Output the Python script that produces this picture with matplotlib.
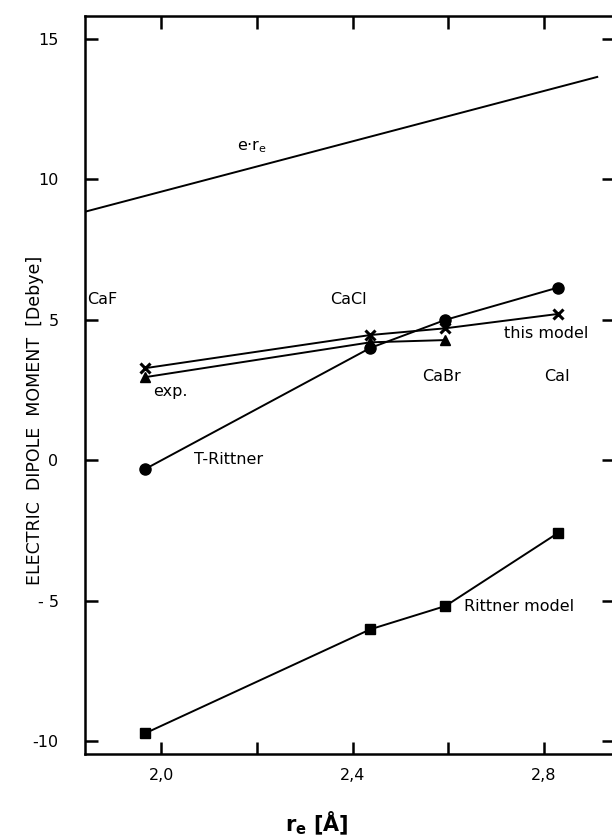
import matplotlib
matplotlib.use("Agg")
import matplotlib.pyplot as plt

# ---- data ----
molecules = ["CaF", "CaCl", "CaBr", "CaI"]
r_e = [1.967, 2.437, 2.594, 2.829]
this_model = [3.28, 4.46, 4.70, 5.21]
exp_vals = [2.96, 4.20, 4.28]          # CaF, CaCl, CaBr
t_rittner = [-0.31, 4.00, 5.00, 6.15]
rittner = [-9.72, -6.02, -5.19, -2.59]
er_x = [1.841, 2.911]
er_y = [8.85, 13.65]

xticks_major = [2.0, 2.4, 2.8]
xtick_labels = ["2,0", "2,4", "2,8"]
xticks_minor = [2.2, 2.6]
yticks = [15, 10, 5, 0, -5, -10]
ytick_labels = ["15", "10", "5", "0", "- 5", "-10"]

plt.rcParams['font.family'] = ['DejaVu Sans']

fig = plt.figure(figsize=(6.12, 8.4), dpi=100)
ax = fig.add_axes([85/612, 86/840, 529/612, 738/840])

lw = 1.4
ax.plot(er_x, er_y, color='black', lw=lw)
ax.plot(r_e, this_model, color='black', lw=lw, marker='x', ms=7, mew=2.2)
ax.plot(r_e[:3], exp_vals, color='black', lw=lw, marker='^', ms=7.5)
ax.plot(r_e, t_rittner, color='black', lw=lw, marker='o', ms=8)
ax.plot(r_e, rittner, color='black', lw=lw, marker='s', ms=7)

ax.set_xlim(1.841, 2.946)
ax.set_ylim(-10.46, 15.82)

ax.set_xticks(xticks_major)
ax.set_xticklabels(xtick_labels)
ax.set_xticks(xticks_minor, minor=True)
ax.set_yticks(yticks)
ax.set_yticklabels(ytick_labels)

ax.tick_params(axis='both', which='both', direction='in', length=9, width=1.8,
               top=True, right=True, labelsize=11.5)
ax.tick_params(axis='x', which='both', pad=10)
ax.tick_params(axis='y', which='both', pad=19)
for s in ['left', 'bottom', 'top']:
    ax.spines[s].set_linewidth(1.8)
ax.spines['right'].set_visible(False)

fs = 11.5
txt = dict(fontsize=fs, ha='center', va='center')
ax.text(2.190, 11.15, 'e·r$_\\mathregular{e}$', **txt)
ax.text(1.877, 5.74, 'CaF', **txt)
ax.text(2.391, 5.71, 'CaCl', **txt)
ax.text(2.585, 3.0, 'CaBr', **txt)
ax.text(2.827, 3.0, 'CaI', **txt)
ax.text(2.804, 4.53, 'this model', **txt)
ax.text(2.019, 2.46, 'exp.', **txt)
ax.text(2.140, 0.01, 'T-Rittner', **txt)
ax.text(2.748, -5.19, 'Rittner model', **txt)

fig.text(35/612, 1 - 420/840, 'ELECTRIC  DIPOLE  MOMENT  [Debye]', rotation=90,
         ha='center', va='center', fontsize=12.5)
fig.text(317/612, 1 - 823/840, 'r$_\\mathregular{e}$ [Å]', ha='center', va='center',
         fontsize=15, fontweight='bold')

fig.savefig('out.png', dpi=100)
